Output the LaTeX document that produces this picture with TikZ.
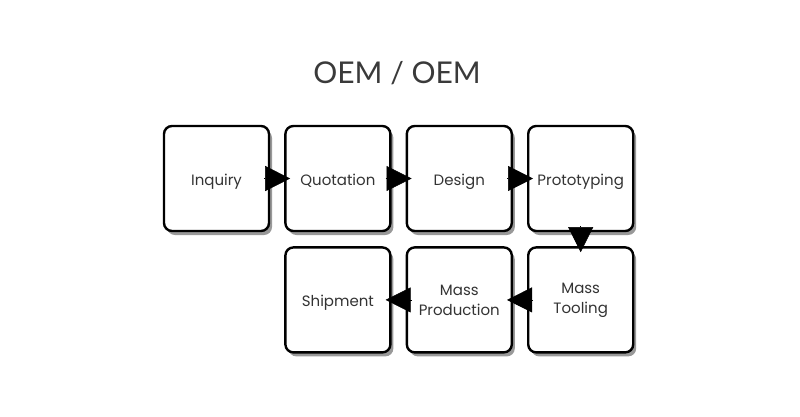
\documentclass[tikz,border=0pt]{standalone}
\usepackage{fontspec}
\setmainfont{Poppins}
\newfontfamily\titlefont{Lato}
\usetikzlibrary{positioning,arrows.meta,shadows}
\definecolor{txtgray}{HTML}{333333}
\definecolor{titlegray}{HTML}{3a3a3a}
\tikzset{
  stage/.style={draw=black, line width=2.4pt, rounded corners=8pt, fill=white,
    minimum width=105pt, minimum height=105pt, align=center, text=txtgray,
    font=\fontsize{15}{20}\selectfont,
    drop shadow={shadow xshift=3pt, shadow yshift=-4pt, fill=black, opacity=0.4}},
  oneline/.style={text height=14pt, text depth=0pt},
  flow/.style={-{Triangle[length=25pt,width=25pt]}, line width=0.5pt, black}
}
\begin{document}
\begin{tikzpicture}[x=1pt,y=-1pt]
\useasboundingbox (0,0) rectangle (800,416);
% title
\node[text=titlegray, font=\titlefont\fontsize{30}{34}\selectfont] (title) at (397,73) {OEM / OEM};

% top row
\node[stage, oneline] (inquiry) at (216.5,178.5) {Inquiry};
\node[stage, oneline, right=14pt of inquiry] (quote) {Quotation};
\node[stage, oneline, right=14pt of quote] (design) {Design};
\node[stage, oneline, right=14pt of design] (proto) {Prototyping};

% bottom row (runs back to the left)
\node[stage, below=14pt of proto] (tooling) {Mass\\Tooling};
\node[stage, left=14pt of tooling] (massprod) {Mass\\Production};
\node[stage, oneline, left=14pt of massprod] (ship) {Shipment};

% arrows
\draw[flow] ([xshift=-6pt]inquiry.east) -- ([xshift=6pt]quote.west);
\draw[flow] ([xshift=-6pt]quote.east) -- ([xshift=6pt]design.west);
\draw[flow] ([xshift=-6pt]design.east) -- ([xshift=6pt]proto.west);
\draw[flow] ([yshift=6pt]proto.south) -- ([yshift=-6pt]tooling.north);
\draw[flow] ([xshift=6pt]tooling.west) -- ([xshift=-6pt]massprod.east);
\draw[flow] ([xshift=6pt]massprod.west) -- ([xshift=-6pt]ship.east);
\end{tikzpicture}
\end{document}
